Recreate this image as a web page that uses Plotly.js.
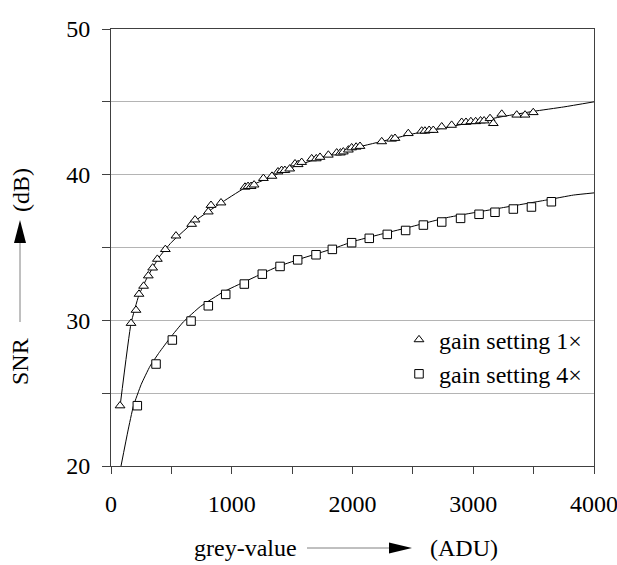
<!DOCTYPE html>
<html>
<head>
<meta charset="utf-8">
<script src="https://cdn.plot.ly/plotly-3.0.1.min.js"></script>
<style>html,body{margin:0;padding:0;background:#fff;}</style>
</head>
<body>
<div id="chart" style="width:617px;height:565px;"></div>
<script>
// gain setting 1x (triangles)
var g1x = [75,166,207,232,270,309,345,384,450,538,668,696,806,828,911,1110,1135,1160,1185,1262,1333,1383,1413,1440,1480,1524,1550,1579,1662,1700,1731,1800,1869,1900,1924,1966,1993,2030,2062,2242,2324,2352,2462,2573,2600,2635,2669,2739,2821,2904,2940,2980,3020,3060,3090,3139,3166,3236,3360,3429,3497];
var g1y = [24.14,29.8,30.7,31.8,32.35,33.06,33.6,34.2,34.87,35.8,36.6,36.9,37.45,37.9,38.07,39.15,39.2,39.2,39.3,39.75,39.9,40.2,40.3,40.3,40.4,40.75,40.7,40.85,41.1,41.1,41.2,41.35,41.5,41.5,41.57,41.7,41.85,41.9,41.95,42.27,42.45,42.5,42.83,43.0,43.0,43.05,43.05,43.29,43.4,43.6,43.6,43.65,43.65,43.7,43.7,43.86,43.52,44.16,44.1,44.1,44.27];
// gain setting 4x (squares)
var g4x = [218,373,508,663,806,950,1104,1253,1400,1546,1698,1833,1993,2139,2288,2440,2587,2739,2895,3048,3180,3332,3482,3647];
var g4y = [24.14,27.0,28.65,29.95,31.0,31.78,32.49,33.17,33.7,34.15,34.5,34.87,35.33,35.63,35.9,36.17,36.54,36.75,37.0,37.28,37.42,37.64,37.78,38.14];
// fitted curves
var fit1x = [75,166,230,300,400,500,700,900,1100,1300,1500,1750,2000,2250,2500,2750,3000,3250,3500,3750,4000];
var fit1y = [24.1,29.8,31.7,32.95,34.35,35.35,36.85,38.0,39.05,39.75,40.5,41.2,41.8,42.3,42.8,43.2,43.6,44.0,44.35,44.65,45.0];
var fit4x = [83,140,185,250,323,400,490,600,740,930,1120,1370,1560,1850,2000,2230,2450,2780,3220,3600,3830,4000];
var fit4y = [20.0,22.4,24.1,25.6,26.85,27.8,28.8,29.9,30.95,31.95,32.7,33.65,34.2,34.95,35.4,35.9,36.35,37.05,37.7,38.25,38.6,38.75];

var xTicks = [0,500,1000,1500,2000,2500,3000,3500,4000];
var xTickText = ['0','','1000','','2000','','3000','','4000'];
var yTicks = [20,25,30,35,40,45,50];
var yTickText = ['20','','30','','40','','50'];

var FONT = 'Liberation Serif, Times New Roman, serif';
var FS = 24;

function px(x){ return (x-111)/483; }
function py(y){ return (466-y)/437; }

var traces = [
  {x: fit1x, y: fit1y, mode:'lines', line:{color:'#000', width:1, shape:'spline', smoothing:0.4}, showlegend:false, hoverinfo:'skip'},
  {x: fit4x, y: fit4y, mode:'lines', line:{color:'#000', width:1, shape:'spline', smoothing:0.4}, showlegend:false, hoverinfo:'skip'},
  {x: g1x, y: g1y, mode:'markers', name:'gain setting 1×',
   marker:{symbol:'triangle-up', size:8.5, color:'#fff', line:{color:'#000', width:1}}},
  {x: g4x, y: g4y, mode:'markers', name:'gain setting 4×',
   marker:{symbol:'square', size:8.5, color:'#fff', line:{color:'#000', width:1}}}
];

var layout = {
  width:617, height:565,
  margin:{l:111, r:23, t:29, b:99, pad:0},
  paper_bgcolor:'#fff', plot_bgcolor:'#fff',
  font:{family:FONT, size:FS, color:'#000'},
  xaxis:{range:[0,4000], tickmode:'array', tickvals:xTicks, ticktext:xTickText,
    ticks:'outside', ticklen:7, tickcolor:'#404040', tickwidth:1,
    showline:true, linecolor:'#404040', linewidth:1, mirror:true,
    showgrid:false, zeroline:false, ticklabelstandoff:9, ticklabeloverflow:'allow',
    tickfont:{family:FONT, size:FS, color:'#000'}},
  yaxis:{range:[20,50], tickmode:'array', tickvals:yTicks, ticktext:yTickText,
    ticks:'outside', ticklen:8, tickcolor:'#404040', tickwidth:1,
    showline:true, linecolor:'#404040', linewidth:1, mirror:true,
    showgrid:true, gridcolor:'#b4b4b4', gridwidth:1, zeroline:false, ticklabelstandoff:7,
    tickfont:{family:FONT, size:FS, color:'#000'}},
  legend:{x:px(399), xanchor:'left', y:py(357), yanchor:'middle', bgcolor:'rgba(0,0,0,0)',
    font:{family:FONT, size:FS, color:'#000'}, borderwidth:0},
  annotations:[
    {xref:'paper', yref:'paper', x:px(245), y:py(548), text:'grey-value', showarrow:false, xanchor:'center', yanchor:'middle', font:{family:FONT, size:FS, color:'#000'}},
    {xref:'paper', yref:'paper', x:px(464), y:py(548), text:'(ADU)', showarrow:false, xanchor:'center', yanchor:'middle', font:{family:FONT, size:FS, color:'#000'}},
    {xref:'paper', yref:'paper', x:px(20), y:py(362), text:'SNR', textangle:-90, showarrow:false, xanchor:'center', yanchor:'middle', font:{family:FONT, size:FS, color:'#000'}},
    {xref:'paper', yref:'paper', x:px(21), y:py(190), text:'(dB)', textangle:-90, showarrow:false, xanchor:'center', yanchor:'middle', font:{family:FONT, size:FS, color:'#000'}}
  ],
  shapes:[
    {type:'line', xref:'paper', yref:'paper', x0:px(307), x1:px(391), y0:py(548), y1:py(548), line:{color:'#808080', width:1}},
    {type:'path', xref:'paper', yref:'paper', path:'M '+px(389)+' '+py(542.5)+' L '+px(412)+' '+py(548)+' L '+px(389)+' '+py(553.5)+' Z', fillcolor:'#000', line:{width:0}},
    {type:'line', xref:'paper', yref:'paper', x0:px(20), x1:px(20), y0:py(322), y1:py(241), line:{color:'#808080', width:1}},
    {type:'path', xref:'paper', yref:'paper', path:'M '+px(14)+' '+py(243)+' L '+px(20)+' '+py(220)+' L '+px(26)+' '+py(243)+' Z', fillcolor:'#000', line:{width:0}}
  ]
};

Plotly.newPlot('chart', traces, layout, {displayModeBar:false, staticPlot:true});
</script>
</body>
</html>
